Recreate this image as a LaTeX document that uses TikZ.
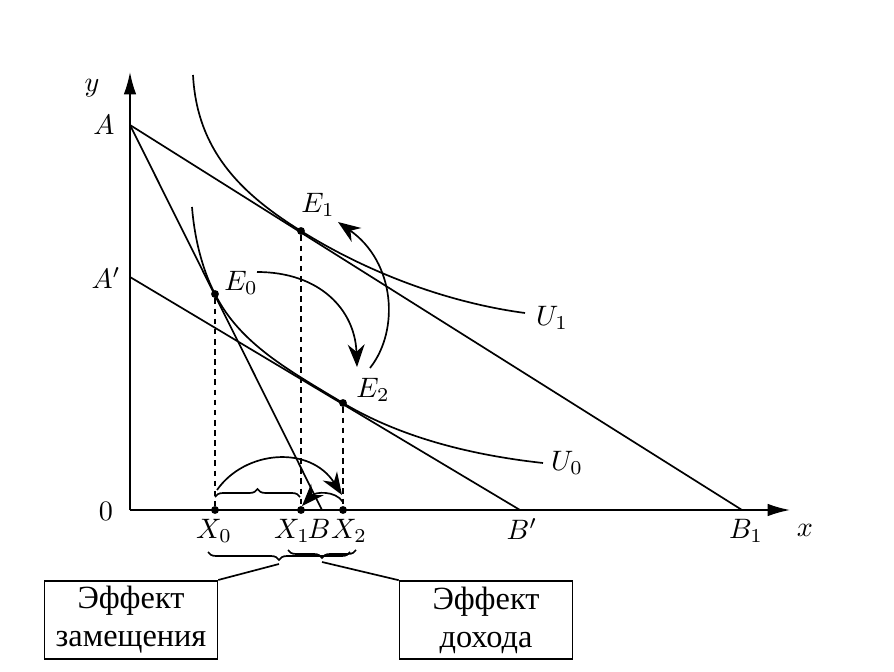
\documentclass[tikz,border=0pt]{standalone}
\usepackage{fontspec}
\setmainfont{Liberation Serif}
\usetikzlibrary{arrows.meta,positioning,decorations.pathreplacing}

\begin{document}
\begin{tikzpicture}[x=0.0125cm,y=-0.0125cm,
  curve/.style={line width=0.6pt},
  axis/.style={-{Latex[length=8pt,width=4.5pt]},line width=0.6pt},
  dot/.style={circle,fill,inner sep=0pt,minimum size=2.8pt},
  guide/.style={dash pattern=on 2pt off 1.6pt,line width=0.5pt},
  arr/.style={-{Stealth[length=8pt,width=6pt]},line width=0.6pt},
  brc/.style={decorate,decoration={brace,amplitude=0.1cm},line width=0.6pt},
  effbox/.style={draw,line width=0.6pt,minimum width=2.16cm,
               minimum height=0.875cm,align=center,
               font=\fontsize{11.5}{13.5}\selectfont,inner sep=2pt},
  lbl/.style={font=\normalsize},
]
  \useasboundingbox (0,0) rectangle (894,672);

  % axes and budget lines
  \coordinate (O)    at (130,510);
  \coordinate (yend) at (130,72);
  \coordinate (xend) at (790,510);
  \coordinate (A)    at (130,125);
  \coordinate (Ap)   at (130,277);
  \coordinate (B)    at (322,510);
  \coordinate (Bp)   at (520,510);
  \coordinate (B1)   at (742,510);
  \draw[axis] (O) -- (yend);
  \draw[axis] (O) -- (xend);
  \draw[curve] (A)  -- (B);
  \draw[curve] (A)  -- (B1);
  \draw[curve] (Ap) -- (Bp);

  % indifference curves
  \node[dot] (E1) at (301,231) {};
  \node[dot] (E0) at (215,294) {};
  \node[dot] (E2) at (343,403) {};
  \draw[curve] (193,75) .. controls (197,150) and (240,193) .. (E1.center)
               .. controls (370,274) and (450,303) .. (525,313);
  \draw[curve] (192,207) .. controls (195,245) and (205,275) .. (E0.center)
               .. controls (240,344) and (290,371) .. (E2.center)
               .. controls (400,437) and (470,455) .. (543,463);

  % projections on x axis
  \node[dot] (X0) at (215,510) {};
  \node[dot] (X1) at (301,510) {};
  \node[dot] (X2) at (343,510) {};
  \draw[guide] (E0) -- (X0);
  \draw[guide] (E1) -- (X1);
  \draw[guide] (E2) -- (X2);

  % shift arrows
  \draw[arr] (257,272) .. controls (320,272) and (355,310) .. (357,367);
  \draw[arr] (370,368) .. controls (400,330) and (395,262) .. (338,222);
  \draw[arr] (217,490) .. controls (245,450) and (310,445) .. (342,495);
  \draw[arr] (343,502) .. controls (335,490) and (315,492) .. (302,506);
  \draw[brc] (215,497) -- (300,497);

  % labels
  \node[lbl] (lbly)  at (92,88)   {$y$};
  \node[lbl] (lblx)  at (805,530) {$x$};
  \node[lbl] (lblO)  at (106,511) {$0$};
  \node[lbl] (lblA)  at (104,125) {$A$};
  \node[lbl] (lblAp) at (106,278) {$A'$};
  \node[lbl] (lblX0) at (214,531) {$X_0$};
  \node[lbl] (lblX1) at (292,531) {$X_1$};
  \node[lbl] (lblB)  at (319,529) {$B$};
  \node[lbl] (lblX2) at (349,531) {$X_2$};
  \node[lbl] (lblBp) at (522,529) {$B'$};
  \node[lbl] (lblB1) at (746,531) {$B_1$};
  \node[lbl] (lblE1) at (318,205) {$E_1$};
  \node[lbl] (lblE0) at (241,283) {$E_0$};
  \node[lbl] (lblE2) at (373,390) {$E_2$};
  \node[lbl] (lblU1) at (552,318) {$U_1$};
  \node[lbl] (lblU0) at (567,463) {$U_0$};

  % effect boxes
  \draw[brc] (350,552) -- (208,552);
  \draw[brc] (356,550) -- (288,550);
  \coordinate (tip1) at (279,564);
  \coordinate (tip2) at (322,562);
  \node[effbox] (subst)  at (131,620) {Эффект\\замещения};
  \node[effbox] (income) at (486,620) {Эффект\\дохода};
  \draw[curve] (subst.north east)  -- (tip1);
  \draw[curve] (income.north west) -- (tip2);
\end{tikzpicture}
\end{document}
